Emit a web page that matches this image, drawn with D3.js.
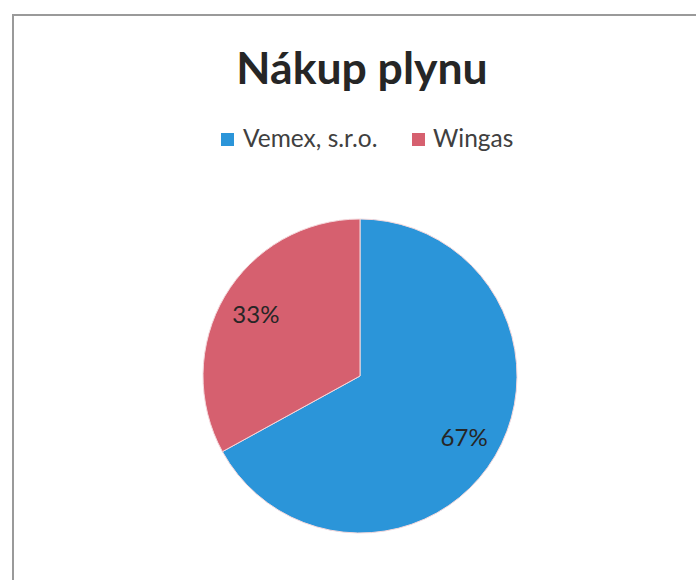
<!DOCTYPE html>
<html>
<head>
<meta charset="utf-8">
<script src="https://cdn.jsdelivr.net/npm/d3@7"></script>
<style>
  body { margin: 0; background: #fff; }
  svg { display: block; }
</style>
</head>
<body>
<div id="chart"></div>
<script>
// data
const categories = ["Vemex, s.r.o.", "Wingas"];
const values = [67, 33];
const colors = ["#2b95d9", "#d6606f"];
const title = "Nákup plynu";

const width = 696, height = 580;

const svg = d3.select("#chart")
    .append("svg")
    .attr("width", width)
    .attr("height", height);

svg.append("rect")
    .attr("width", width).attr("height", height)
    .attr("fill", "#fff");

// chart border (runs off the right and bottom edge)
svg.append("rect")
    .attr("x", 13).attr("y", 15)
    .attr("width", 720).attr("height", 620)
    .attr("fill", "none")
    .attr("stroke", "#9a9a9a")
    .attr("stroke-width", 2);

svg.append("text")
    .attr("x", 362).attr("y", 84)
    .attr("text-anchor", "middle")
    .style("font-family", "Lato, 'Open Sans', sans-serif")
    .style("font-weight", "bold")
    .style("font-size", "44.5px")
    .attr("fill", "#262626")
    .text(title);

// legend
const legendX = [221, 412];
const legend = svg.append("g").selectAll("g")
    .data(categories)
    .join("g")
    .attr("transform", (d, i) => `translate(${legendX[i]}, 147)`);

legend.append("rect")
    .attr("x", 0).attr("y", -14)
    .attr("width", 13).attr("height", 13)
    .attr("fill", (d, i) => colors[i]);

legend.append("text")
    .attr("x", (d, i) => i === 0 ? 22 : 21)
    .attr("y", 0)
    .style("font-family", "Lato, 'Open Sans', sans-serif")
    .style("font-size", "24.5px")
    .attr("fill", "#404040")
    .text(d => d);

// pie
const cx = 360, cy = 376, r = 157;
const pie = d3.pie().sort(null).value(d => d);
const arcs = pie(values);
const arc = d3.arc().innerRadius(0).outerRadius(r);
const labelArc = d3.arc().innerRadius(121).outerRadius(121);
const total = d3.sum(values);

const g = svg.append("g").attr("transform", `translate(${cx}, ${cy})`);

g.selectAll("path")
    .data(arcs)
    .join("path")
    .attr("d", arc)
    .attr("fill", (d, i) => colors[i])
    .attr("stroke", "#f4d8dc")
    .attr("stroke-width", 1);

g.selectAll("text")
    .data(arcs)
    .join("text")
    .attr("transform", d => `translate(${labelArc.centroid(d)})`)
    .attr("text-anchor", "middle")
    .attr("dy", "0.36em")
    .style("font-family", "Lato, 'Open Sans', sans-serif")
    .style("font-size", "24px")
    .attr("fill", "#262626")
    .text(d => Math.round(d.value / total * 100) + "%");
</script>
</body>
</html>
